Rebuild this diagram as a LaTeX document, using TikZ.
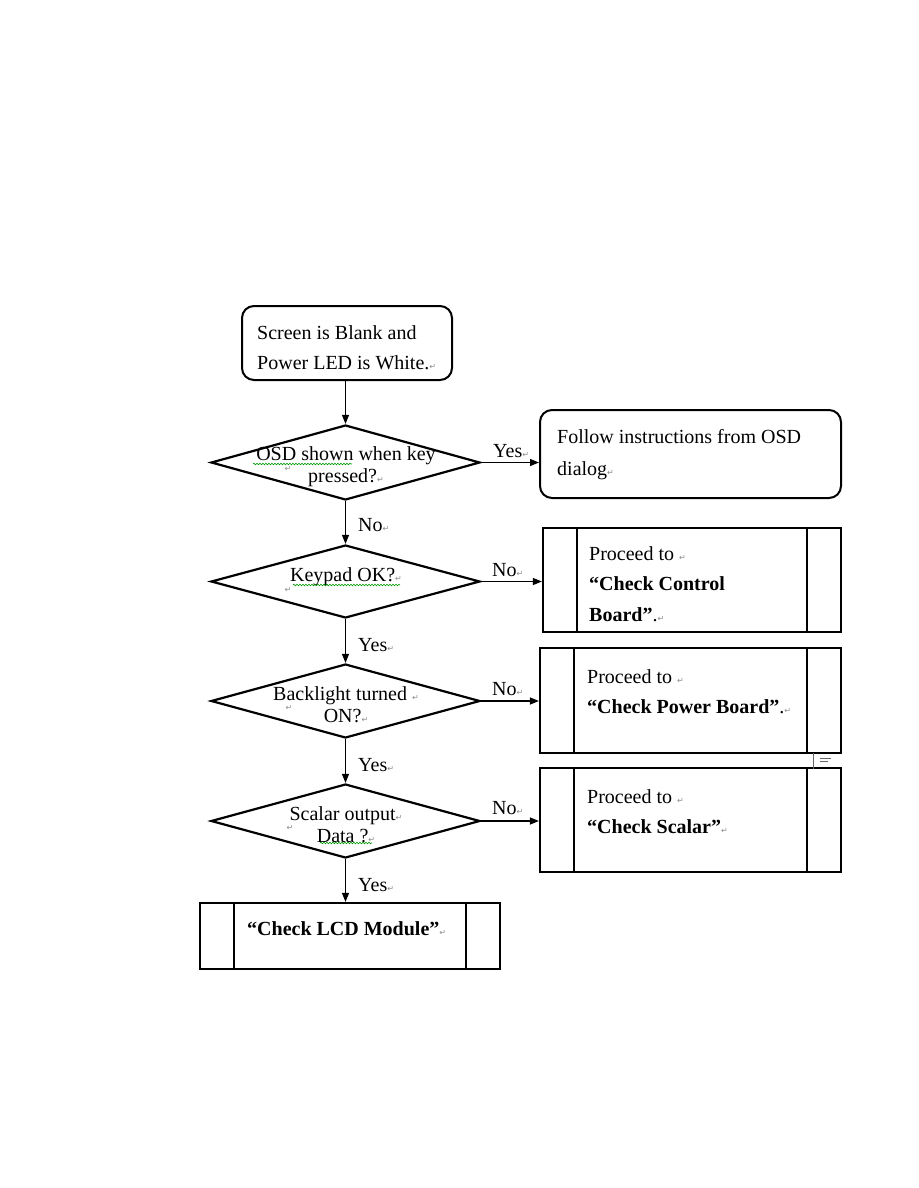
\documentclass[tikz,border=0pt]{standalone}
\usepackage{fontspec}
\setmainfont{Liberation Serif}
\newfontfamily\dejavu{DejaVu Sans}
\usetikzlibrary{shapes.geometric,arrows.meta,decorations.pathmorphing}
\newcommand\retmk{{\color{black!45}\dejavu\fontsize{8}{8}\selectfont ↵}}
\begin{document}
\begin{tikzpicture}[x=1pt,y=-1pt,
  rbox/.style={draw, line width=2pt, rounded corners=12pt, inner sep=0pt},
  pbox/.style={draw, line width=2.2pt, inner sep=0pt},
  dec/.style={draw, diamond, line width=2.2pt, inner sep=0pt},
  txt/.style={font=\fontsize{20}{30}\selectfont, inner sep=0pt},
  dtxt/.style={font=\fontsize{20}{22}\selectfont, inner sep=0pt, align=center},
  lab/.style={font=\fontsize{20}{22}\selectfont, inner sep=0pt, anchor=west},
  arr/.style={line width=1.2pt, -{Triangle[length=9pt,width=7pt]}},
  mk/.style={inner sep=0pt, font=\dejavu\fontsize{8}{8}\selectfont, text=black!45},
  wavy/.style={decorate, decoration={snake, amplitude=0.8pt, segment length=3pt}, draw=green!60!black, line width=0.6pt}
]
\useasboundingbox (0,0) rectangle (918,1188);
\fill[white] (0,0) rectangle (918,1188);

% shapes
\node[rbox, minimum width=210pt, minimum height=74pt] (s) at (347,343) {};
\node[dec, minimum width=269pt, minimum height=75pt] (d1) at (345.5,462.5) {};
\node[rbox, minimum width=301pt, minimum height=88pt] (f) at (690.5,454) {};
\node[dec, minimum width=269pt, minimum height=73pt] (d2) at (345.5,581.5) {};
\node[pbox, minimum width=298pt, minimum height=104pt] (b2) at (692,580) {};
\node[dec, minimum width=269pt, minimum height=74pt] (d3) at (345.5,701) {};
\node[pbox, minimum width=301pt, minimum height=105pt] (b3) at (690.5,700.5) {};
\node[dec, minimum width=269pt, minimum height=74pt] (d4) at (345.5,821) {};
\node[pbox, minimum width=301pt, minimum height=104pt] (b4) at (690.5,820) {};
\node[pbox, minimum width=300pt, minimum height=66pt] (b5) at (350,936) {};

% inner lines of process boxes
\foreach \b in {b2,b3,b4,b5}{
  \draw[line width=2.2pt] ([xshift=35pt]\b.north west) -- ([xshift=35pt]\b.south west);
  \draw[line width=2.2pt] ([xshift=-35pt]\b.north east) -- ([xshift=-35pt]\b.south east);
}

% texts
\node[txt, anchor=west, align=left] (ts) at (257,348) {Screen is Blank and\\Power LED is White.\retmk};
\node[dtxt] (t1) at (346,467) {OSD shown when key\\pressed?\retmk};
\node[txt, anchor=west, align=left, font=\fontsize{20}{32}\selectfont] (tf) at (557,455) {Follow instructions from OSD\\dialog\retmk};
\node[dtxt] (t2) at (346,577) {Keypad OK?\retmk};
\node[txt, anchor=west, align=left, font=\fontsize{20}{30.5}\selectfont] (tb2) at (589,584) {Proceed to \retmk\\\textbf{“Check Control}\\\textbf{Board”}.\retmk};
\node[dtxt] (t3) at (346,705) {Backlight turned \retmk\\ON?\retmk};
\node[txt, anchor=west, align=left] (tb3) at (587,692) {Proceed to \retmk\\\textbf{“Check Power Board”}.\retmk};
\node[dtxt] (t4) at (346,825) {Scalar output\retmk\\Data ?\retmk};
\node[txt, anchor=west, align=left] (tb4) at (587,812) {Proceed to \retmk\\\textbf{“Check Scalar”}\retmk};
\node[txt, anchor=west] (tb5) at (247,929) {\textbf{“Check LCD Module”}\retmk};

% leading paragraph marks
\node[mk] (m1) at (288,469) {↵};
\node[mk] (m2) at (288,590) {↵};
\node[mk] (m3) at (289,708) {↵};
\node[mk] (m4) at (290,828) {↵};

% spell-check underlines
\coordinate (w1a) at (253,464); \coordinate (w1b) at (352,464);
\coordinate (w2a) at (293,585); \coordinate (w2b) at (400,585);
\coordinate (w4a) at (320,843); \coordinate (w4b) at (372,843);
\draw[wavy] (w1a) -- (w1b);
\draw[wavy] (w2a) -- (w2b);
\draw[wavy] (w4a) -- (w4b);

% connectors
\draw[arr] (d1.north |- s.south) -- (d1.north);
\draw[arr] (d1.south) -- (d2.north);
\draw[arr] (d2.south) -- (d3.north);
\draw[arr] (d3.south) -- (d4.north);
\draw[arr] (d4.south) -- (d4.south |- b5.north);
\draw[arr] (d1.east) -- (d1.east -| f.west);
\draw[arr] (d2.east) -- (d2.east -| b2.west);
\draw[arr] (d3.east) -- (d3.east -| b3.west);
\draw[arr] (d4.east) -- (d4.east -| b4.west);

% labels
\node[lab] (l1) at (493,451) {Yes\retmk};
\node[lab] (l2) at (358,525) {No\retmk};
\node[lab] (l3) at (492,570) {No\retmk};
\node[lab] (l4) at (358,645) {Yes\retmk};
\node[lab] (l5) at (492,689) {No\retmk};
\node[lab] (l6) at (358,765) {Yes\retmk};
\node[lab] (l7) at (492,808) {No\retmk};
\node[lab] (l8) at (358,885) {Yes\retmk};

% small anchor mark
\coordinate (am1) at (813,753); \coordinate (am2) at (813,769);
\draw[black!60, line width=0.7pt] (am1) -- (am2);
\draw[black!60, line width=0.7pt] (820,758) -- (831,758) (820,761) -- (828,761);
\end{tikzpicture}
\end{document}
